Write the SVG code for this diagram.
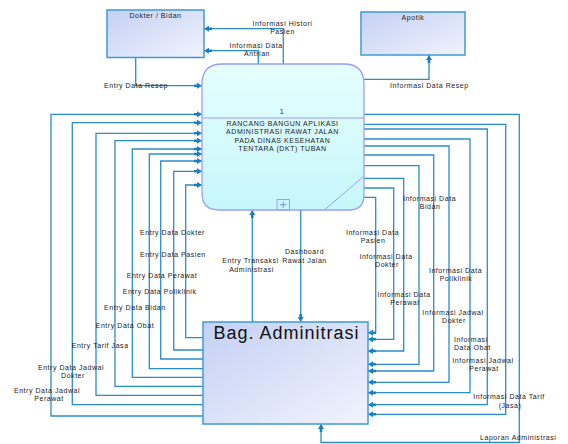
<svg xmlns="http://www.w3.org/2000/svg" width="568" height="444" viewBox="0 0 568 444">
<defs>
<linearGradient id="gBox" x1="0" y1="0" x2="1" y2="1">
<stop offset="0" stop-color="#c4d1f4"/>
<stop offset="1" stop-color="#f1f3fd"/>
</linearGradient>
<linearGradient id="gProc" x1="0" y1="0" x2="0" y2="1">
<stop offset="0" stop-color="#e6fefe"/>
<stop offset="1" stop-color="#c6f7fb"/>
</linearGradient>
<marker id="arr" viewBox="0 0 8 6" refX="8" refY="3" markerWidth="8" markerHeight="6" markerUnits="userSpaceOnUse" orient="auto">
<path d="M0,1.7 L3,1.7 L3,0 L8,3 L3,6 L3,4.3 L0,4.3 z" fill="#1a7fc2"/>
</marker>
<style>
.box{fill:url(#gBox);stroke:#3f9bd4;stroke-width:1.5}
.proc{fill:url(#gProc);stroke:#9d9df7;stroke-width:1.3}
.c{fill:none;stroke:#2a8dcb;stroke-width:1.3;marker-end:url(#arr)}
.t{font-family:"Liberation Sans",Arial,sans-serif;font-size:7px;letter-spacing:0.55px;fill:#222}
.m{text-anchor:middle}
</style>
</defs>

<g id="connectors">
<!-- top -->
<polyline class="c" points="283.3,64 283.3,28.7 204,28.7"/>
<polyline class="c" points="258.3,64 258.3,50.7 204,50.7"/>
<polyline class="c" points="135.7,57.7 135.7,85.7 202,85.7"/>
<polyline class="c" points="364,79.3 429,79.3 429,55"/>
<!-- vertical between process and admin -->
<polyline class="c" points="252.3,322 252.3,210"/>
<polyline class="c" points="300.7,210 300.7,322"/>
<!-- left side entries -->
<polyline class="c" points="203,416 51,416 51,114.3 202,114.3"/>
<polyline class="c" points="203,404.7 72.3,404.7 72.3,122.7 202,122.7"/>
<polyline class="c" points="203,395.3 96,395.3 96,133.3 202,133.3"/>
<polyline class="c" points="203,386.3 115,386.3 115,140.7 202,140.7"/>
<polyline class="c" points="203,377.3 132.3,377.3 132.3,149 202,149"/>
<polyline class="c" points="203,368.7 149.3,368.7 149.3,154 202,154"/>
<polyline class="c" points="203,359 160.7,359 160.7,161 202,161"/>
<polyline class="c" points="203,350 173.7,350 173.7,171.3 202,171.3"/>
<polyline class="c" points="203,337.7 185.7,337.7 185.7,185 202,185"/>
<!-- right side informasi -->
<polyline class="c" points="364,124.3 505.7,124.3 505.7,414.3 368,414.3"/>
<polyline class="c" points="364,129 487.3,129 487.3,404.7 368,404.7"/>
<polyline class="c" points="364,139 470,139 470,392.7 368,392.7"/>
<polyline class="c" points="364,146 449,146 449,382.3 368,382.3"/>
<polyline class="c" points="364,155 433.7,155 433.7,371 368,371"/>
<polyline class="c" points="364,165.7 419,165.7 419,364.3 368,364.3"/>
<polyline class="c" points="364,178.3 403.7,178.3 403.7,351 368,351"/>
<polyline class="c" points="364,188 393.7,188 393.7,339.3 368,339.3"/>
<polyline class="c" points="363.5,197.3 375.7,197.3 375.7,332.7 368,332.7"/>
<polyline class="c" points="364,114.3 519.3,114.3 519.3,442.5 321,442.5 321,424"/>
</g>

<g id="dokter-bidan">
<rect class="box" x="107" y="10" width="97" height="47.5"/>
<text class="t m" x="155.5" y="17.5">Dokter / Bidan</text>
</g>

<g id="apotik">
<rect class="box" x="361" y="12" width="104" height="43"/>
<text class="t m" x="413" y="20">Apotik</text>
</g>

<g id="process">
<path class="proc" d="M222,64 H344 Q364,64 364,84 V195 Q364,210 349,210 H219 Q202,210 202,193 V84 Q202,64 222,64 Z"/>
<line x1="202" y1="118" x2="364" y2="118" stroke="#9d9df7" stroke-width="1.2"/>
<line x1="364" y1="176" x2="325" y2="209.5" stroke="#9d9df7" stroke-width="1"/>
<rect x="277" y="199.5" width="12.5" height="10.5" fill="none" stroke="#9d9df7" stroke-width="1"/>
<path d="M280,204.7 H286.5 M283.25,201.5 V208" stroke="#8a8af0" stroke-width="1"/>
<text class="t m" x="282" y="114">1</text>
<text class="t m" x="282.5" y="126">RANCANG BANGUN APLIKASI</text>
<text class="t m" x="282.5" y="134.3">ADMINISTRASI RAWAT JALAN</text>
<text class="t m" x="282.5" y="142.5">PADA DINAS KESEHATAN</text>
<text class="t m" x="282.5" y="150.7">TENTARA (DKT) TUBAN</text>
</g>

<g id="bag-adminitrasi">
<rect class="box" x="203" y="322" width="165" height="102"/>
<text x="213.5" y="339" font-family="'Liberation Sans',Arial,sans-serif" font-size="18" letter-spacing="1" fill="#111">Bag. Adminitrasi</text>
</g>

<g id="labels">
<text class="t m" x="282.5" y="25.8">Informasi Histori</text>
<text class="t m" x="282.5" y="34">Pasien</text>
<text class="t m" x="256" y="47.5">Informasi Data</text>
<text class="t m" x="257" y="56">Antrian</text>
<text class="t" x="104" y="88">Entry Data Resep</text>
<text class="t" x="390" y="88">Informasi Data Resep</text>

<text class="t" x="140" y="235">Entry Data Dokter</text>
<text class="t" x="140" y="256.5">Entry Data Pasien</text>
<text class="t" x="126.7" y="278">Entry Data Perawat</text>
<text class="t" x="122.7" y="293.5">Entry Data Poliklinik</text>
<text class="t" x="104" y="310">Entry Data Bidan</text>
<text class="t" x="95.7" y="328">Entry Data Obat</text>
<text class="t" x="71.7" y="348">Entry Tarif Jasa</text>
<text class="t m" x="71" y="370">Entry Data Jadwal</text>
<text class="t m" x="73" y="378.3">Dokter</text>
<text class="t m" x="47" y="393">Entry Data Jadwal</text>
<text class="t m" x="49" y="401">Perawat</text>

<text class="t m" x="250.5" y="263">Entry Transaksi</text>
<text class="t m" x="251.5" y="271.5">Administrasi</text>
<text class="t m" x="304.5" y="254">Dashboard</text>
<text class="t m" x="304.5" y="262.5">Rawat Jalan</text>

<text class="t m" x="429.5" y="201">Informasi Data</text>
<text class="t m" x="430" y="209.3">Bidan</text>
<text class="t m" x="372.5" y="235">Informasi Data</text>
<text class="t m" x="373" y="243.3">Pasien</text>
<text class="t m" x="386" y="259">Informasi Data</text>
<text class="t m" x="387" y="267">Dokter</text>
<text class="t m" x="455.5" y="272.5">Informasi Data</text>
<text class="t m" x="456" y="281">Poliklinik</text>
<text class="t m" x="404" y="296.5">Informasi Data</text>
<text class="t m" x="405" y="305">Perawat</text>
<text class="t m" x="453" y="315">Informasi Jadwal</text>
<text class="t m" x="454" y="323">Dokter</text>
<text class="t" x="454" y="342">Informasi</text>
<text class="t" x="454" y="350">Data Obat</text>
<text class="t m" x="483" y="362.5">Informasi Jadwal</text>
<text class="t m" x="484" y="371">Perawat</text>
<text class="t m" x="509" y="399">Informasi Data Tarif</text>
<text class="t m" x="510" y="407.5">(Jasa)</text>
<text class="t" x="480" y="440">Laporan Administrasi</text>
</g>
</svg>
